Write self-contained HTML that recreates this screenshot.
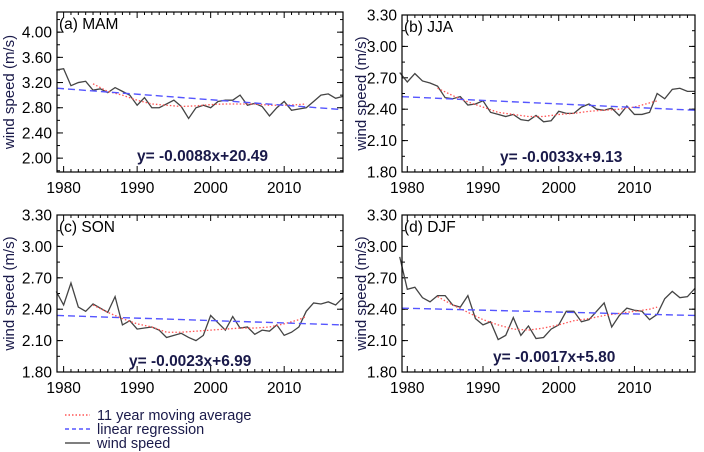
<!DOCTYPE html>
<html><head><meta charset="utf-8"><style>
body{margin:0;background:#fff}
svg{display:block;font-family:"Liberation Sans",sans-serif}
</style></head><body>
<svg id="c" width="704" height="452"></svg>
<script>
const years=[];for(let y=1979;y<=2018;y++)years.push(y);
const maYears=[1984,1986,1988,1990,1992,1994,1996,1998,2000,2002,2004,2006,2008,2010,2012,2013];
const mamWind=[3.40,3.42,3.15,3.20,3.22,3.08,3.10,3.04,3.12,3.06,3.00,2.84,2.96,2.80,2.80,2.86,2.92,2.82,2.63,2.80,2.84,2.80,2.90,2.92,2.92,3.00,2.84,2.87,2.82,2.67,2.80,2.90,2.76,2.78,2.80,2.90,3.00,3.02,2.95,2.98];
const mamMA=[3.18,3.06,3.00,2.92,2.86,2.84,2.82,2.83,2.85,2.86,2.86,2.86,2.84,2.84,2.85,2.86];
const mamReg=[3.11,2.77];
const jjaWind=[2.75,2.66,2.74,2.67,2.65,2.62,2.51,2.50,2.52,2.44,2.45,2.48,2.37,2.35,2.33,2.35,2.30,2.29,2.34,2.28,2.29,2.38,2.36,2.36,2.42,2.45,2.40,2.39,2.41,2.34,2.43,2.35,2.35,2.37,2.55,2.50,2.59,2.60,2.57,2.57];
const jjaMA=[2.60,2.53,2.47,2.42,2.37,2.35,2.33,2.33,2.35,2.36,2.38,2.39,2.40,2.42,2.46,2.48];
const jjaReg=[2.52,2.39];
const sonWind=[2.57,2.44,2.65,2.42,2.38,2.45,2.41,2.37,2.52,2.25,2.29,2.21,2.22,2.23,2.20,2.13,2.15,2.17,2.13,2.10,2.15,2.34,2.27,2.20,2.33,2.22,2.23,2.16,2.20,2.19,2.25,2.15,2.18,2.23,2.38,2.46,2.45,2.47,2.44,2.51];
const sonMA=[2.44,2.37,2.31,2.26,2.23,2.18,2.18,2.19,2.20,2.21,2.22,2.22,2.23,2.26,2.30,2.33];
const sonReg=[2.34,2.25];
const djfWind=[2.90,2.59,2.61,2.51,2.47,2.53,2.53,2.44,2.42,2.53,2.31,2.25,2.28,2.11,2.15,2.32,2.15,2.24,2.12,2.13,2.21,2.25,2.38,2.38,2.28,2.30,2.38,2.46,2.23,2.34,2.41,2.39,2.38,2.30,2.35,2.50,2.57,2.51,2.52,2.60];
const djfMA=[2.52,2.44,2.37,2.30,2.25,2.21,2.20,2.22,2.25,2.29,2.31,2.34,2.36,2.38,2.40,2.42];
const djfReg=[2.41,2.34];
const ticksA=[2.00,2.40,2.80,3.20,3.60,4.00];
const ticksB=[1.80,2.10,2.40,2.70,3.00,3.30];
const xTicks=[1980,1990,2000,2010];
const labels=["(a) MAM","(b) JJA","(c) SON","(d) DJF"];
const equations=["y= -0.0088x+20.49","y= -0.0033x+9.13","y= -0.0023x+6.99","y= -0.0017x+5.80"];

const NS="http://www.w3.org/2000/svg",svg=document.getElementById('c');
function el(t,a,p){const e=document.createElementNS(NS,t);for(const k in a)e.setAttribute(k,a[k]);(p||svg).appendChild(e);return e;}
const panels=[
 {L:57,R:343,T:12,B:172,xmin:1979.1,ymin:1.78,ymax:4.32,ticks:ticksA,minor:0.2,w:mamWind,ma:mamMA,reg:mamReg,ex:137,ey:161,tx:14},
 {L:402,R:695,T:15,B:172,xmin:1979.3,ymin:1.80,ymax:3.30,ticks:ticksB,minor:0.15,w:jjaWind,ma:jjaMA,reg:jjaReg,ex:500,ey:162,tx:366},
 {L:57,R:343,T:215,B:372,xmin:1979.1,ymin:1.80,ymax:3.30,ticks:ticksB,minor:0.15,w:sonWind,ma:sonMA,reg:sonReg,ex:129,ey:366,tx:14},
 {L:402,R:695,T:215,B:372,xmin:1979.3,ymin:1.80,ymax:3.30,ticks:ticksB,minor:0.15,w:djfWind,ma:djfMA,reg:djfReg,ex:493,ey:362,tx:366}];
panels.forEach((p,i)=>{
 const g=el('g',{});
 
 
 const X=v=>p.L+(v-p.xmin)/(2018-p.xmin)*(p.R-p.L);
 const Y=v=>p.B-(v-p.ymin)/(p.ymax-p.ymin)*(p.B-p.T);
 for(let y=1980;y<=2018;y++){const x=X(y),len=y%10==0?6:3;
  el('line',{x1:x,x2:x,y1:p.B,y2:p.B-len,stroke:'#000'},g);
  el('line',{x1:x,x2:x,y1:p.T,y2:p.T+len,stroke:'#000'},g);}
 for(let v=p.ticks[0]-p.minor*2;v<=p.ymax+1e-6;v+=p.minor){if(v<p.ymin)continue;const y=Y(v);
  el('line',{x1:p.L,x2:p.L+3,y1:y,y2:y,stroke:'#000'},g);el('line',{x1:p.R,x2:p.R-3,y1:y,y2:y,stroke:'#000'},g);}
 p.ticks.forEach(v=>{const y=Y(v);
  el('line',{x1:p.L,x2:p.L+6,y1:y,y2:y,stroke:'#000'},g);el('line',{x1:p.R,x2:p.R-6,y1:y,y2:y,stroke:'#000'},g);
  const t=el('text',{x:p.L-5,y:y+5.5,'text-anchor':'end','font-size':15.5},g);t.textContent=v.toFixed(2);
  });
 xTicks.forEach(v=>{const t=el('text',{x:X(v),y:p.B+21,'text-anchor':'middle','font-size':15.5},g);t.textContent=v;
  });
 const wl=el('polyline',{points:years.map((y,k)=>X(y)+','+Y(p.w[k])).join(' '),fill:'none',stroke:'#444','stroke-width':1.3},g);
 
 const ml=el('polyline',{points:maYears.map((y,k)=>X(y)+','+Y(p.ma[k])).join(' '),fill:'none',stroke:'#f55','stroke-width':1.3,'stroke-dasharray':'1.5 2'},g);
 
 const rl=el('line',{x1:X(p.xmin),y1:Y(p.reg[0]),x2:X(2018),y2:Y(p.reg[1]),stroke:'#55f','stroke-width':1.4,'stroke-dasharray':'7 4'},g);
 
 el('rect',{x:p.L,y:p.T,width:p.R-p.L,height:p.B-p.T,fill:'none',stroke:'#000','stroke-width':1.2},g);
 const lb=el('text',{x:p.L+2,y:p.T+17,'font-size':15.5},g);lb.textContent=labels[i];
 
 const eq=el('text',{x:p.ex,y:p.ey,'font-size':15.5,'font-weight':'bold',fill:'#1a1a4a'},g);eq.textContent=equations[i];
 
 const yt=el('text',{transform:`translate(${p.tx},${(p.T+p.B)/2}) rotate(-90)`,'text-anchor':'middle','font-size':15,fill:'#1a1a4a'},g);yt.textContent='wind speed (m/s)';
 
});
const lg=el('g',{});


[['11 year moving average','#f55','1.5 2',415],['linear regression','#55f','4 3',429],['wind speed','#555','',443]].forEach(r=>{
 el('line',{x1:65,x2:90,y1:r[3],y2:r[3],stroke:r[1],'stroke-width':1.4,'stroke-dasharray':r[2]},lg);
 const t=el('text',{x:97,y:r[3]+5,'font-size':14.5,fill:'#1a1a4a'},lg);t.textContent=r[0];
 
});
</script>
</body></html>
